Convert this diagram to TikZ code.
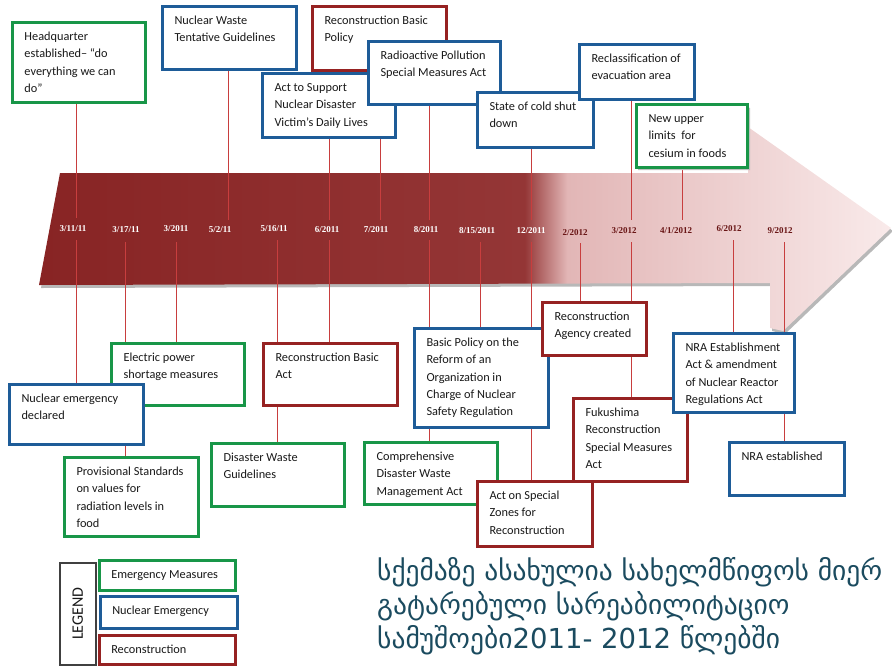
\documentclass[tikz,border=0pt]{standalone}
\usepackage{fontspec}
\setmainfont{Carlito}
\newfontfamily\datefont{Liberation Serif}
\newfontfamily\geofont{DejaVu Sans}
\definecolor{cgreen}{RGB}{24,150,72}
\definecolor{cblue}{RGB}{30,92,152}
\definecolor{cred}{RGB}{150,34,34}
\definecolor{cline}{RGB}{200,62,62}
\definecolor{ar1}{RGB}{136,36,36}
\definecolor{ar1b}{RGB}{148,54,54}
\definecolor{ar2}{RGB}{226,182,182}
\definecolor{ar3}{RGB}{249,234,234}
\definecolor{geo}{RGB}{27,75,95}
\definecolor{datedark}{RGB}{105,22,22}
\definecolor{txt}{RGB}{25,25,25}
\pgfdeclarehorizontalshading{arrowshade}{100bp}{color(0bp)=(ar1); color(25bp)=(ar1); color(53.5bp)=(ar1b); color(56bp)=(ar2); color(75bp)=(ar3); color(100bp)=(ar3)}
\pgfdeclarelayer{bgzero}
\pgfdeclarelayer{bgone}
\pgfsetlayers{bgzero,bgone,main}
\tikzset{
  basebox/.style={fill=white, line width=3pt, inner sep=0pt, anchor=north west, text=txt,
    font=\fontsize{12.3}{17.3}\selectfont},
  ebox/.style={basebox, draw=cgreen},
  nbox/.style={basebox, draw=cblue},
  rbox/.style={basebox, draw=cred},
  conn/.style={draw=cline, line width=1pt},
  datelbl/.style={font=\datefont\bfseries\fontsize{9}{10}\selectfont, text=white, inner sep=1pt},
  datelbldark/.style={datelbl, text=datedark},
}
\newcommand\tlbox[7]{%
  \node[#1] (#2) at (#3,#4) {\parbox[c][#6pt][t]{#5pt}{\hspace*{12pt}\begin{tabular}[t]{@{}l@{}}\rule{0pt}{18pt}#7\end{tabular}}};}
\begin{document}
\begin{tikzpicture}[x=1pt,y=-1pt]
\useasboundingbox (0,0) rectangle (892,665);

% arrow
\begin{pgfonlayer}{bgzero}
\fill[black!28, xshift=2pt, yshift=-3pt] (60,173) -- (748,173) -- (748,127) -- (891,228) -- (783,331) -- (770,328) -- (770,283) -- (39,285) -- cycle;
\shade[shading=arrowshade] (60,173) -- (748,173) -- (748,127) -- (891,228) -- (783,331) -- (770,328) -- (770,283) -- (39,285) -- cycle;
\end{pgfonlayer}

% top boxes
\tlbox{rbox}{rbp}{311}{5}{134}{64}{Reconstruction Basic\\Policy}
\tlbox{nbox}{ats}{261}{72}{133}{64}{Act to Support\\Nuclear Disaster\\Victim’s Daily Lives}
\tlbox{nbox}{rps}{367}{40}{132}{63}{Radioactive Pollution\\Special Measures Act}
\tlbox{nbox}{csd}{476}{91}{116}{55}{State of cold shut\\down}
\tlbox{nbox}{rea}{578}{43}{115}{55}{Reclassification of\\evacuation area}
\fill[black!25] (746,106) -- (750,108) -- (750,170) -- (638,170) -- (638,166) -- (746,166) -- cycle;
\tlbox{ebox}{nul}{635}{103}{111}{63}{New upper\\limits~ for\\cesium in foods}
\tlbox{nbox}{nwt}{161}{5}{134}{63}{Nuclear Waste\\Tentative Guidelines}
\tlbox{ebox}{hq}{11}{21}{133}{80}{Headquarter\\established– “do\\everything we can\\do”}

% bottom boxes
\tlbox{ebox}{epm}{110}{342}{133}{62}{Electric power\\shortage measures}
\tlbox{nbox}{ned}{8}{383}{134}{60}{Nuclear emergency\\declared}
\tlbox{ebox}{pst}{63}{456}{134}{79}{Provisional Standards\\on values for\\radiation levels in\\food}
\tlbox{rbox}{rba}{262}{342}{134}{62}{Reconstruction Basic\\Act}
\tlbox{ebox}{dwg}{210}{442}{133}{63}{Disaster Waste\\Guidelines}
\tlbox{nbox}{bpr}{413}{327}{134}{99}{Basic Policy on the\\Reform of an\\Organization in\\Charge of Nuclear\\Safety Regulation}
\tlbox{rbox}{rac}{541}{301}{104}{53}{Reconstruction\\Agency created}
\tlbox{ebox}{cdw}{363}{441}{133}{62}{Comprehensive\\Disaster Waste\\Management Act}
\tlbox{rbox}{asz}{476}{480}{115}{65}{Act on Special\\Zones for\\Reconstruction}
\tlbox{rbox}{frs}{572}{397}{114}{83}{Fukushima\\Reconstruction\\Special Measures\\Act}
\tlbox{nbox}{nra}{672}{332}{121}{79}{NRA Establishment\\Act \& amendment\\of Nuclear Reactor\\Regulations Act}
\tlbox{nbox}{nre}{728}{441}{115}{53}{NRA established}

% date labels
\node[datelbl] (d1) at (73,229) {3/11/11};
\node[datelbl] (d2) at (126,230) {3/17/11};
\node[datelbl] (d3) at (176,229) {3/2011};
\node[datelbl] (d4) at (220,230) {5/2/11};
\node[datelbl] (d5) at (274,229) {5/16/11};
\node[datelbl] (d6) at (327,230) {6/2011};
\node[datelbl] (d7) at (376,230) {7/2011};
\node[datelbl] (d8) at (426,230) {8/2011};
\node[datelbl] (d9) at (477,231) {8/15/2011};
\node[datelbl] (d10) at (531,231) {12/2011};
\node[datelbldark] (d11) at (575,233) {2/2012};
\node[datelbldark] (d12) at (624,231) {3/2012};
\node[datelbldark] (d13) at (676,231) {4/1/2012};
\node[datelbldark] (d14) at (729,229) {6/2012};
\node[datelbldark] (d15) at (780,231) {9/2012};

% connector end points on the arrow
\coordinate (t1) at (76,218);
\coordinate (t4) at (228,220);
\coordinate (t6) at (329,220);
\coordinate (t7) at (380,220);
\coordinate (t8) at (429,220);
\coordinate (t10) at (531,220);
\coordinate (t12) at (631,220);
\coordinate (t13) at (682,220);
\coordinate (b1) at (76,240);
\coordinate (b2) at (125,242);
\coordinate (b3) at (176,242);
\coordinate (b5) at (277,240);
\coordinate (b6) at (329,240);
\coordinate (b8) at (429,240);
\coordinate (b9) at (480,242);
\coordinate (b10) at (531,242);
\coordinate (b11) at (580,243);
\coordinate (b12) at (631,242);
\coordinate (b14) at (733,240);
\coordinate (b15) at (784,242);

\begin{pgfonlayer}{bgone}
\draw[conn] (hq.south -| t1) -- (t1);
\draw[conn] (nwt.south -| t4) -- (t4);
\draw[conn] (ats.south -| t6) -- (t6);
\draw[conn] (rbp.south -| t7) -- (t7);
\draw[conn] (rps.south -| t8) -- (t8);
\draw[conn] (csd.south -| t10) -- (t10);
\draw[conn] (rea.south -| t12) -- (t12);
\draw[conn] (nul.south -| t13) -- (t13);
\draw[conn] (b1) -- (ned.north -| b1);
\draw[conn] (b2) -- (pst.north -| b2);
\draw[conn] (b3) -- (epm.north -| b3);
\draw[conn] (b5) -- (dwg.north -| b5);
\draw[conn] (b6) -- (rba.north -| b6);
\draw[conn] (b8) -- (cdw.north -| b8);
\draw[conn] (b9) -- (bpr.north -| b9);
\draw[conn] (b10) -- (asz.north -| b10);
\draw[conn] (b11) -- (rac.north -| b11);
\draw[conn] (b12) -- (frs.north -| b12);
\draw[conn] (b14) -- (nra.north -| b14);
\draw[conn] (b15) -- (nre.north -| b15);
\end{pgfonlayer}

% legend
\node[draw=black!75, line width=1.5pt, anchor=north west, minimum width=36pt, minimum height=102pt, inner sep=0pt] (lg) at (59,562) {};
\node[rotate=90, font=\fontsize{16}{18}\selectfont, text=txt] (lgt) at (lg.center) {LEGEND};
\tikzset{legbox/.style={line width=2.5pt}}
\tlbox{ebox,legbox}{lem}{98}{559}{136}{30}{Emergency Measures}
\tlbox{nbox,legbox}{lne}{99}{595}{137}{32}{Nuclear Emergency}
\tlbox{rbox,legbox}{lre}{98}{634}{136}{29}{Reconstruction}

% Georgian caption (anchored at the baseline of its last line)
\node[anchor=base west, align=left, text=geo, inner sep=0pt, font=\geofont\fontsize{27.5}{34}\selectfont] (cap) at (377,648) {სქემაზე ასახულია სახელმწიფოს მიერ\\გატარებული სარეაბილიტაციო\\სამუშოები2011- 2012 წლებში};
\end{tikzpicture}
\end{document}
